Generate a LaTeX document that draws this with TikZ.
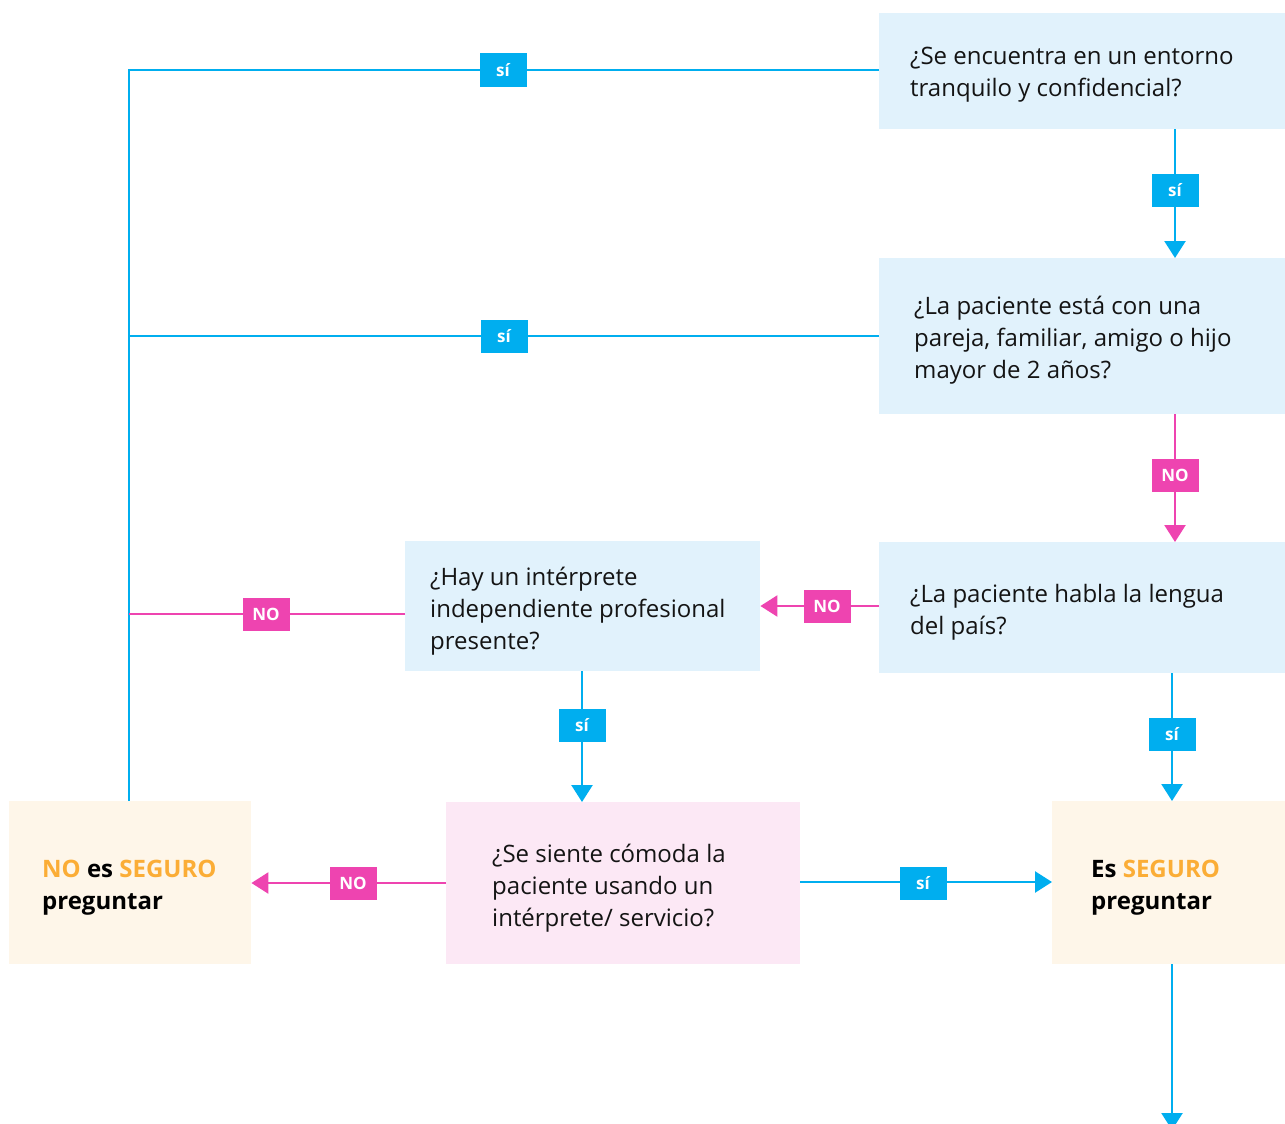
\documentclass[tikz,border=0pt]{standalone}
\usepackage{fontspec}
\setmainfont{Open Sans}
\usetikzlibrary{arrows.meta}
\definecolor{cblue}{HTML}{00AEEF}
\definecolor{cpink}{HTML}{EE44B0}
\definecolor{fblue}{HTML}{E1F2FC}
\definecolor{fpink}{HTML}{FCE8F5}
\definecolor{fcream}{HTML}{FEF6E9}
\definecolor{corange}{HTML}{FBAD36}
\definecolor{ctext}{HTML}{141414}
\tikzset{
  boxshape/.style={draw=none, inner sep=0pt, anchor=north west},
  qbox/.style={boxshape, fill=fblue},
  pbox/.style={boxshape, fill=fpink},
  cbox/.style={boxshape, fill=fcream},
  qtext/.style={inner sep=0pt, anchor=west, align=left, text=ctext, font=\fontsize{24}{32}\selectfont},
  rtext/.style={qtext, text=black, font=\bfseries\fontsize{24}{32}\selectfont},
  bline/.style={draw=cblue, line width=2.5pt},
  pline/.style={draw=cpink, line width=2.5pt},
  barrow/.style={bline, -{Triangle[width=21pt,length=17pt]}},
  parrow/.style={pline, -{Triangle[width=21pt,length=17pt]}},
  lab/.style={inner sep=0pt, minimum width=47pt, minimum height=33pt, text=white, font=\bfseries\fontsize{17}{17}\selectfont},
  blab/.style={lab, fill=cblue},
  plab/.style={lab, fill=cpink},
}
\begin{document}
\begin{tikzpicture}[x=1pt,y=-1pt]
\useasboundingbox (0,0) rectangle (1285,1124);
% boxes
\node[qbox, minimum width=406pt, minimum height=116pt] (b1) at (879,13) {};
\node[qtext] (t1) at (910,75) {¿Se encuentra en un entorno\\tranquilo y confidencial?};
\node[qbox, minimum width=406pt, minimum height=156pt] (b2) at (879,258) {};
\node[qtext] (t2) at (914,340) {¿La paciente está con una\\pareja, familiar, amigo o hijo\\mayor de 2 años?};
\node[qbox, minimum width=406pt, minimum height=131pt] (b3) at (879,542) {};
\node[qtext] (t3) at (910,612) {¿La paciente habla la lengua\\del país?};
\node[qbox, minimum width=355pt, minimum height=130pt] (b4) at (405,541) {};
\node[qtext] (t4) at (430,611) {¿Hay un intérprete\\independiente profesional\\presente?};
\node[pbox, minimum width=354pt, minimum height=162pt] (b5) at (446,802) {};
\node[qtext] (t5) at (492,888) {¿Se siente cómoda la\\paciente usando un\\intérprete/ servicio?};
\node[cbox, minimum width=242pt, minimum height=163pt] (b6) at (9,801) {};
\node[rtext] (t6) at (42,888) {\textcolor{corange}{NO} es \textcolor{corange}{SEGURO}\\preguntar};
\node[cbox, minimum width=233pt, minimum height=163pt] (b7) at (1052,801) {};
\node[rtext] (t7) at (1091,888) {Es \textcolor{corange}{SEGURO}\\preguntar};
% helper coordinates
\coordinate (c1) at (129,70);
\coordinate (c2) at (129,336);
\coordinate (c3) at (129,614);
\coordinate (end) at (1172,1130);
% left trunk
\draw[bline] (b1.west |- 0,70) -- (c1) -- (c1 |- b6.north);
\draw[bline] (b2.west |- 0,336) -- (c2);
\draw[pline] (b4.west |- 0,614) -- (c3);
\node[blab] (l1) at (503,70) {sí};
\node[blab] (l2) at (504,336) {sí};
\node[plab] (l3) at (266,614) {NO};
% right column
\draw[barrow] (1175,0 |- b1.south) -- (1175,0 |- b2.north);
\node[blab] (l4) at (1175,190) {sí};
\draw[parrow] (1175,0 |- b2.south) -- (1175,0 |- b3.north);
\node[plab] (l5) at (1175,475) {NO};
\draw[parrow] (b3.west |- 0,606) -- (b4.east |- 0,606);
\node[plab] (l6) at (827,606) {NO};
\draw[barrow] (582,0 |- b4.south) -- (582,0 |- b5.north);
\node[blab] (l7) at (582,725) {sí};
\draw[barrow] (1172,0 |- b3.south) -- (1172,0 |- b7.north);
\node[blab] (l8) at (1172,734) {sí};
\draw[parrow] (b5.west |- 0,883) -- (b6.east |- 0,883);
\node[plab] (l9) at (353,883) {NO};
\draw[barrow] (b5.east |- 0,882) -- (b7.west |- 0,882);
\node[blab] (l10) at (923,883) {sí};
\draw[barrow] (1172,0 |- b7.south) -- (end);
\end{tikzpicture}
\end{document}
